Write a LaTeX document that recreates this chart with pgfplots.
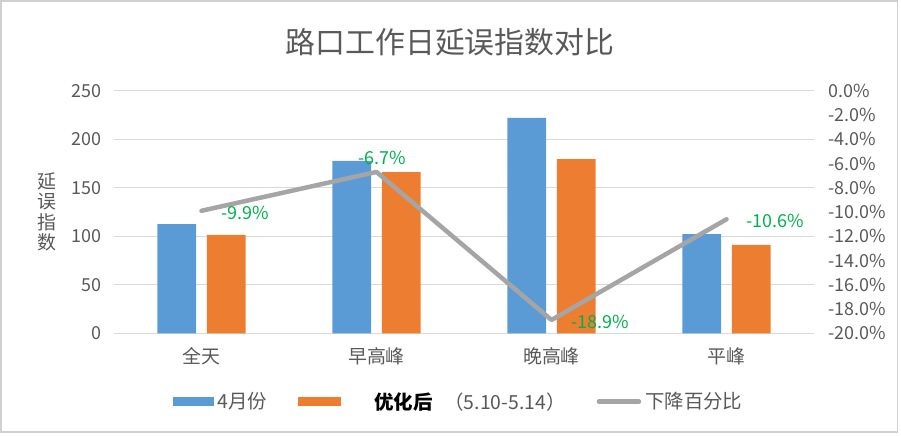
\documentclass[border=0pt]{standalone}
\usepackage{fontspec}
\setmainfont{Noto Sans CJK SC}
\usepackage{pgfplots}
\usepackage{pgfplotstable}
\pgfplotsset{compat=1.18}
\definecolor{cblue}{HTML}{5B9BD5}
\definecolor{corange}{HTML}{ED7D31}
\definecolor{cgray}{HTML}{A5A5A5}
\definecolor{cgrid}{HTML}{D9D9D9}
\definecolor{ctext}{HTML}{595959}
\definecolor{cgreen}{HTML}{00B050}
\definecolor{cborder}{HTML}{D0D0D0}
\pgfplotstableread{
x a b
0 112.6 101.3
1 177.6 166.2
2 221.9 179.6
3 102.3 91.0
}\bars
\pgfplotstableread{
x p
0 -0.099
1 -0.067
2 -0.189
3 -0.106
}\pct
\begin{document}
\begin{tikzpicture}[x=1bp,y=1bp]
\useasboundingbox (0,0) rectangle (901,436);
\draw[cborder, line width=1.6bp] (1,3.8) rectangle (897.3,435);
\node[text=ctext, font=\fontsize{30}{34}\selectfont] at (450,393.5) {路口工作日延误指数对比};
\begin{axis}[
  at={(114bp,102.7bp)}, anchor=south west, scale only axis,
  width=700bp, height=242.6bp,
  xmin=-0.5, xmax=3.5, ymin=0, ymax=250,
  /pgf/number format/assume math mode=true,
  ybar=10.7bp, bar width=38.7bp,
  ytick={0,50,100,150,200,250},
  yticklabels={0,50,100,150,200,250},
  xtick={0,1,2,3}, xticklabels={全天,早高峰,晚高峰,平峰},
  axis line style={draw=none}, major tick length=0pt,
  ymajorgrids, grid style={cgrid, line width=1.2bp},
  yticklabel style={text=ctext, font=\fontsize{18}{20}\selectfont, xshift=-9bp},
  xticklabel style={text=ctext, font=\fontsize{19}{21}\selectfont, yshift=-11bp},
  legend columns=3,
  legend style={at={(axis description cs:0.0835,-0.281)}, anchor=west, draw=none, fill=none,
    font=\fontsize{19.5}{22}\selectfont, text=ctext, inner sep=0pt,
    nodes={inner xsep=4bp},
    /tikz/every even column/.append style={column sep=27bp}},
  clip=false,
]
\addplot[fill=cblue, draw=none, legend image code/.code={\fill[cblue] (0bp,-4.2bp) rectangle (41bp,4.2bp);}] table[x=x,y=a]{\bars};
\addlegendentry{4月份}
\addplot[fill=corange, draw=none, legend image code/.code={\fill[corange] (0bp,-4.2bp) rectangle (43bp,4.2bp);}] table[x=x,y=b]{\bars};
\addlegendentry{\hspace{29bp}{\color{black}\bfseries 优化后}\hspace{12bp}（5.10-5.14）}
\addlegendimage{legend image code/.code={\draw[cgray, line width=4.5bp, line cap=round] (2bp,0) -- (42bp,0);}}
\addlegendentry{下降百分比}
\node[text=ctext, font=\fontsize{19}{20.5}\selectfont, align=center] at (axis description cs:-0.096,0.5) {延\\误\\指\\数};
\end{axis}
\begin{axis}[
  at={(114bp,102.7bp)}, anchor=south west, scale only axis,
  width=700bp, height=242.6bp,
  xmin=-0.5, xmax=3.5, ymin=-0.2, ymax=0,
  axis y line*=right, axis x line=none,
  axis line style={draw=none}, major tick length=0pt,
  ytick={-0.20,-0.18,-0.16,-0.14,-0.12,-0.10,-0.08,-0.06,-0.04,-0.02,0},
  yticklabels={-20.0\%,-18.0\%,-16.0\%,-14.0\%,-12.0\%,-10.0\%,-8.0\%,-6.0\%,-4.0\%,-2.0\%,0.0\%},
  yticklabel style={text=ctext, font=\fontsize{18}{20}\selectfont, anchor=west, xshift=11bp},
  clip=false,
]
\addplot[cgray, line width=4.5bp, line join=round, line cap=round] table[x=x,y=p]{\pct};
\addplot[draw=none, mark=none, nodes near coords, point meta=explicit symbolic,
  every node near coord/.append style={anchor=west, text=cgreen, font=\fontsize{18}{20}\selectfont, xshift=16bp, yshift=-2bp}]
  coordinates {(0,-0.099) [-9.9\%] (2,-0.189) [-18.9\%] (3,-0.106) [-10.6\%]};
\addplot[draw=none, mark=none, nodes near coords, point meta=explicit symbolic,
  every node near coord/.append style={anchor=south, text=cgreen, font=\fontsize{18}{20}\selectfont, xshift=6bp, yshift=4bp}]
  coordinates {(1,-0.067) [-6.7\%]};
\end{axis}
\end{tikzpicture}
\end{document}
